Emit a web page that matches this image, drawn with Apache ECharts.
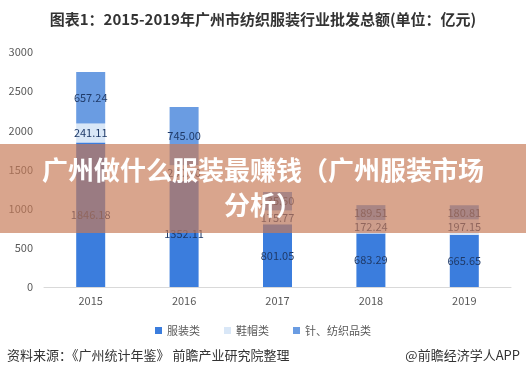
<!DOCTYPE html>
<html><head><meta charset="utf-8">
<script src="https://cdn.jsdelivr.net/npm/echarts@6/dist/echarts.min.js"></script>
<style>html,body{margin:0;padding:0;background:#fff}#c{width:526px;height:379px}</style>
</head><body><div id="c"></div>
<script>
const years = ['2015','2016','2017','2018','2019'];
const clothing = [1846.18, 1352.11, 801.05, 683.29, 665.65];
const shoesHats = [241.11, 200.90, 175.77, 172.24, 197.15];
const textiles = [657.24, 745.00, 235.60, 189.51, 180.81];
const seriesNames = ['服装类', '鞋帽类', '针、纺织品类'];
const yTicks = {min: 0, max: 3000, interval: 500};

const FONT = '"Noto Sans CJK SC", "Noto Sans", sans-serif';
const chart = echarts.init(document.getElementById('c'), null, {renderer: 'canvas'});
const lbl = {show: true, position: 'inside', color: '#1f3a68', fontSize: 11, fontFamily: FONT,
  formatter: p => p.value.toFixed(2)};
chart.setOption({
  animation: false,
  textStyle: {fontFamily: FONT},
  title: {text: '图表1：2015-2019年广州市纺织服装行业批发总额(单位：亿元)', left: 'center', top: 7,
    textStyle: {fontSize: 15, fontWeight: 'bold', color: '#333', fontFamily: FONT}},
  grid: {left: 44, right: 15, top: 52, bottom: 92, containLabel: false},
  legend: {data: seriesNames, top: 320, left: 'center', itemWidth: 7, itemHeight: 7, itemGap: 24,
    icon: 'rect', textStyle: {fontSize: 11, color: '#595959', fontFamily: FONT}},
  xAxis: {type: 'category', data: years,
    axisLine: {lineStyle: {color: '#d9d9d9'}}, axisTick: {show: false},
    axisLabel: {color: '#595959', fontSize: 11, margin: 8}},
  yAxis: {type: 'value', min: yTicks.min, max: yTicks.max, interval: yTicks.interval,
    splitLine: {show: false}, axisLine: {show: false}, axisTick: {show: false},
    axisLabel: {color: '#595959', fontSize: 11, margin: 11, formatter: v => String(v)}},
  series: [
    {name: seriesNames[0], type: 'bar', stack: 't', barWidth: 29, data: clothing,
      itemStyle: {color: '#3b7ddd'}, label: lbl},
    {name: seriesNames[1], type: 'bar', stack: 't', barWidth: 29, data: shoesHats,
      itemStyle: {color: '#d9e7f7'}, label: lbl},
    {name: seriesNames[2], type: 'bar', stack: 't', barWidth: 29, data: textiles,
      itemStyle: {color: '#6a9ce2'}, label: lbl}
  ],
  graphic: [
    {type: 'rect', z: 100, shape: {x: 0, y: 144, width: 526, height: 89},
      style: {fill: 'rgba(199,123,87,0.68)'}},
    {type: 'text', z: 101, left: 'center', top: 157,
      style: {text: '广州做什么服装最赚钱（广州服装市场', fill: '#fff', fontSize: 26, fontWeight: 'bold', fontFamily: FONT}},
    {type: 'text', z: 101, left: 'center', top: 192,
      style: {text: '分析）', fill: '#fff', fontSize: 26, fontWeight: 'bold', fontFamily: FONT}},
    {type: 'text', z: 101, left: 7, top: 349,
      style: {text: '资料来源：《广州统计年鉴》 前瞻产业研究院整理', fill: '#333', fontSize: 13, fontFamily: FONT}},
    {type: 'text', z: 101, right: 6, top: 349,
      style: {text: '@前瞻经济学人APP', fill: '#333', fontSize: 13, fontFamily: FONT}}
  ]
});
</script></body></html>
